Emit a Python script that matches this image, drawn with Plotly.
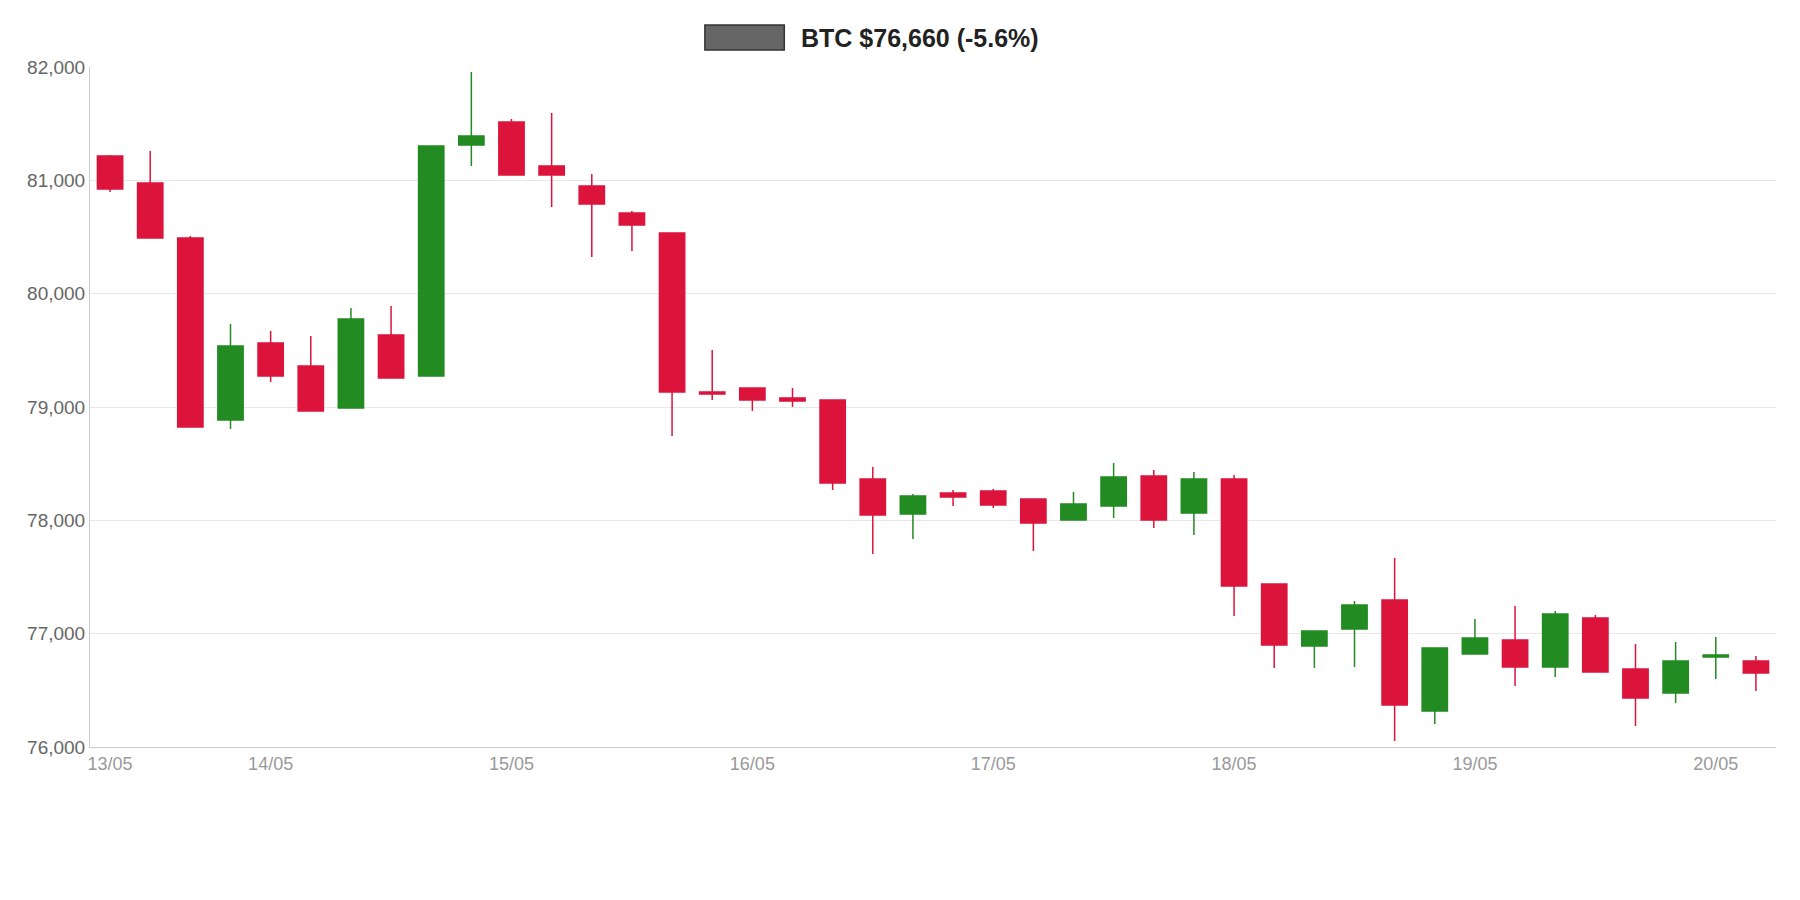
import plotly.graph_objects as go
import pandas as pd

start = pd.Timestamp("2026-05-13 08:00")
times = [start + pd.Timedelta(hours=4 * i) for i in range(42)]

opens = [81215, 80976, 80491, 78885, 79565, 79362, 78991, 79635, 79273, 81312,
         81515, 81126, 80950, 80712, 80535, 79132, 79167, 79079, 79062, 78365,
         78056, 78241, 78259, 78188, 78003, 78126, 78391, 78065, 78365, 77438,
         76891, 77041, 77297, 76318, 76821, 76944, 76706, 77138, 76688, 76476,
         76794, 76759]
highs = [81224, 81259, 80509, 79732, 79671, 79627, 79873, 79891, 81303, 81956,
         81541, 81594, 81056, 80729, 80535, 79503, 79167, 79167, 79062, 78470,
         78232, 78267, 78276, 78188, 78250, 78506, 78444, 78426, 78400, 77438,
         77024, 77288, 77668, 76874, 77129, 77244, 77200, 77165, 76909, 76927,
         76971, 76803]
lows = [80897, 80491, 78823, 78806, 79220, 78965, 78991, 79256, 79273, 81126,
        81047, 80765, 80323, 80376, 78744, 79062, 78965, 79000, 78267, 77703,
        77835, 78126, 78109, 77730, 78003, 78021, 77932, 77871, 77156, 76697,
        76697, 76706, 76053, 76203, 76821, 76538, 76618, 76662, 76185, 76388,
        76600, 76494]
closes = [80923, 80491, 78823, 79538, 79273, 78965, 79776, 79256, 81303, 81391,
          81047, 81047, 80791, 80606, 79132, 79115, 79062, 79053, 78329, 78047,
          78215, 78206, 78135, 77976, 78144, 78382, 78003, 78365, 77421, 76900,
          77024, 77253, 76370, 76874, 76962, 76706, 77173, 76662, 76432, 76759,
          76812, 76653]

tick_vals = [start] + [pd.Timestamp(f"2026-05-{d:02d} 00:00") for d in range(14, 21)]
tick_text = ["13/05", "14/05", "15/05", "16/05", "17/05", "18/05", "19/05", "20/05"]
y_ticks = [76000, 77000, 78000, 79000, 80000, 81000, 82000]

fig = go.Figure(go.Candlestick(
    x=times, open=opens, high=highs, low=lows, close=closes,
    increasing=dict(line=dict(color="#228B22", width=1.5), fillcolor="#228B22"),
    decreasing=dict(line=dict(color="#DC143C", width=1.5), fillcolor="#DC143C"),
    whiskerwidth=0, showlegend=False,
))

fig.update_layout(
    width=1800, height=900, plot_bgcolor="white", paper_bgcolor="white",
    margin=dict(l=82, r=32, t=59, b=161),
    font=dict(family="Liberation Sans, Arial, sans-serif"),
    boxgap=0.1,
    xaxis=dict(rangeslider=dict(visible=False), type="date",
               range=[start - pd.Timedelta(hours=2), times[-1] + pd.Timedelta(hours=2)],
               tickvals=tick_vals, ticktext=tick_text, showgrid=False,
               showline=True, linecolor="#cccccc", linewidth=1,
               tickfont=dict(size=18, color="#999999"), ticks=""),
    yaxis=dict(range=[76000, 82000], tickvals=y_ticks, tickformat=",d",
               showgrid=True, gridcolor="#e8e8e8", zeroline=False,
               showline=True, linecolor="#cccccc", linewidth=1,
               tickfont=dict(size=19, color="#666666"), ticks=""),
    shapes=[dict(type="rect", xref="paper", yref="paper",
                 x0=0.3647, x1=0.4118, y0=1.025, y1=1.0618,
                 fillcolor="#666666", line=dict(color="#333333", width=1.5))],
    annotations=[dict(text="<b>BTC $76,660 (-5.6%)</b>", xref="paper", yref="paper",
                      x=0.4206, y=1.043, xanchor="left", yanchor="middle",
                      showarrow=False, font=dict(size=25, color="#222222"))],
)

fig.write_html("out.html")
